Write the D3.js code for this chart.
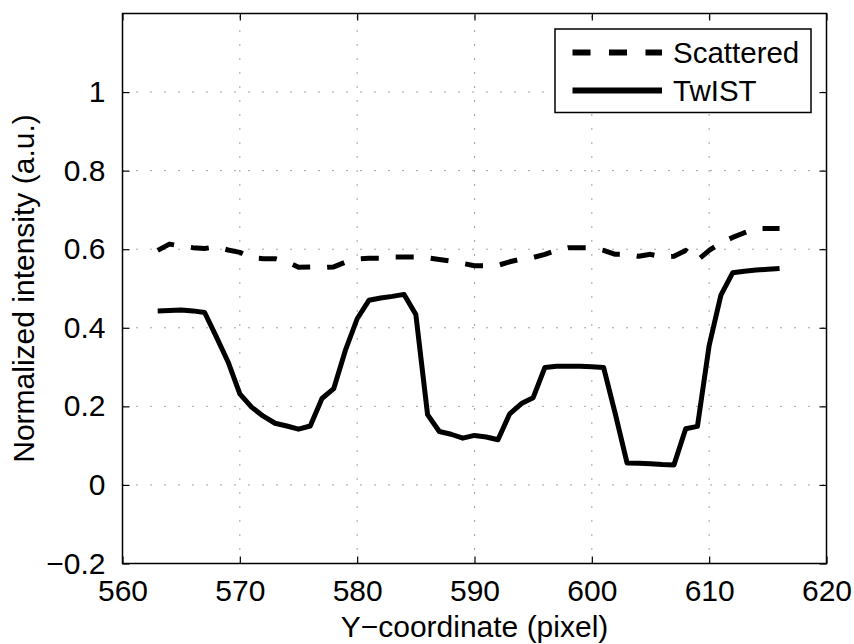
<!DOCTYPE html>
<html>
<head>
<meta charset="utf-8">
<script src="https://cdn.jsdelivr.net/npm/d3@7"></script>
<style>
  body { margin: 0; background: #fff; }
  text { font-family: "Liberation Sans", Arial, sans-serif; fill: #000; }
</style>
</head>
<body>
<div id="chart"></div>
<script>
// ─── data ────────────────────────────────────────────────────────
const yCoord = [563, 564, 565, 566, 567, 568, 569, 570, 571, 572, 573, 574, 575, 576,
                577, 578, 579, 580, 581, 582, 583, 584, 585, 586, 587, 588, 589, 590,
                591, 592, 593, 594, 595, 596, 597, 598, 599, 600, 601, 602, 603, 604,
                605, 606, 607, 608, 609, 610, 611, 612, 613, 614, 615, 616];

const scattered = [0.597, 0.613, 0.608, 0.604, 0.602, 0.606, 0.598, 0.592, 0.578, 0.576,
                   0.576, 0.568, 0.554, 0.555, 0.553, 0.555, 0.567, 0.575, 0.577, 0.577,
                   0.580, 0.580, 0.580, 0.578, 0.574, 0.570, 0.564, 0.558, 0.558, 0.559,
                   0.568, 0.575, 0.579, 0.587, 0.597, 0.604, 0.604, 0.603, 0.597, 0.587,
                   0.587, 0.582, 0.587, 0.580, 0.582, 0.597, 0.572, 0.597, 0.616, 0.630,
                   0.642, 0.653, 0.653, 0.653];

const twist = [0.443, 0.444, 0.445, 0.443, 0.439, 0.377, 0.313, 0.232, 0.198, 0.175,
               0.157, 0.150, 0.142, 0.150, 0.220, 0.245, 0.343, 0.423, 0.470, 0.476,
               0.480, 0.485, 0.434, 0.179, 0.136, 0.129, 0.119, 0.126, 0.122, 0.115,
               0.181, 0.207, 0.222, 0.299, 0.302, 0.302, 0.302, 0.301, 0.299, 0.181,
               0.056, 0.055, 0.054, 0.052, 0.051, 0.143, 0.149, 0.355, 0.483, 0.540,
               0.544, 0.547, 0.549, 0.551];

const xTicks = [560, 570, 580, 590, 600, 610, 620];
const yTicks = [-0.2, 0, 0.2, 0.4, 0.6, 0.8, 1];

const seriesNames = ["Scattered", "TwIST"];

// ─── layout ──────────────────────────────────────────────────────
const width = 854, height = 644;
const plotL = 122.5, plotR = 826.5, plotT = 13.5, plotB = 563.5;
const fontSize = 30;
const tickLen = 7;

const x = d3.scaleLinear().domain([560, 620]).range([plotL, plotR]);
const y = d3.scaleLinear().domain([-0.2, 1.2]).range([plotB, plotT]);

const svg = d3.select("#chart")
    .append("svg")
    .attr("width", width)
    .attr("height", height)
    .style("display", "block");

svg.append("rect").attr("width", width).attr("height", height).attr("fill", "#fff");

// ─── dotted grid ─────────────────────────────────────────────────
const grid = svg.append("g")
    .attr("stroke", "#444")
    .attr("stroke-width", 1)
    .attr("stroke-dasharray", "1,13");

grid.selectAll("line.gx")
    .data(xTicks.slice(1, -1))
    .join("line")
    .attr("class", "gx")
    .attr("x1", d => x(d)).attr("x2", d => x(d))
    .attr("y1", plotB).attr("y2", plotT);

grid.selectAll("line.gy")
    .data(yTicks.slice(1))
    .join("line")
    .attr("class", "gy")
    .attr("x1", plotL).attr("x2", plotR)
    .attr("y1", d => y(d)).attr("y2", d => y(d));

// ─── axes (ticks inside, on all four sides) ──────────────────────
const fmtY = d => d3.format("")(d).replace("-", "\u2212");

const xBottom = svg.append("g")
    .attr("transform", `translate(0,${plotB})`)
    .call(d3.axisBottom(x).tickValues(xTicks).tickSize(-tickLen).tickPadding(tickLen + 9).tickFormat(d3.format("d")));
const xTop = svg.append("g")
    .attr("transform", `translate(0,${plotT})`)
    .call(d3.axisTop(x).tickValues(xTicks).tickSize(-tickLen).tickFormat(""));
const yLeft = svg.append("g")
    .attr("transform", `translate(${plotL},0)`)
    .call(d3.axisLeft(y).tickValues(yTicks).tickSize(-tickLen).tickPadding(tickLen + 10).tickFormat(fmtY));
const yRight = svg.append("g")
    .attr("transform", `translate(${plotR},0)`)
    .call(d3.axisRight(y).tickValues(yTicks).tickSize(-tickLen).tickFormat(""));

[xBottom, xTop, yLeft, yRight].forEach(g => {
    g.select(".domain").remove();
    g.selectAll(".tick line").attr("stroke", "#000").attr("stroke-width", 1.2);
    g.selectAll("text")
        .style("font-family", "'Liberation Sans', Arial, sans-serif")
        .style("font-size", fontSize + "px")
        .attr("fill", "#000");
});
xBottom.selectAll("text").attr("dy", "0.72em");

// box
svg.append("rect")
    .attr("x", plotL).attr("y", plotT)
    .attr("width", plotR - plotL).attr("height", plotB - plotT)
    .attr("fill", "none")
    .attr("stroke", "#000")
    .attr("stroke-width", 1.5);

// ─── data lines ──────────────────────────────────────────────────
const line = d3.line()
    .x((d, i) => x(yCoord[i]))
    .y(d => y(d));

svg.append("path")
    .datum(scattered)
    .attr("d", line)
    .attr("fill", "none")
    .attr("stroke", "#000")
    .attr("stroke-width", 5)
    .attr("stroke-dasharray", "18,17")
    .attr("stroke-linejoin", "round");

svg.append("path")
    .datum(twist)
    .attr("d", line)
    .attr("fill", "none")
    .attr("stroke", "#000")
    .attr("stroke-width", 5)
    .attr("stroke-linejoin", "round");

// ─── axis titles ─────────────────────────────────────────────────
svg.append("text")
    .attr("x", (plotL + plotR) / 2)
    .attr("y", 637)
    .attr("text-anchor", "middle")
    .style("font-size", fontSize + "px")
    .text("Y\u2212coordinate (pixel)");

svg.append("text")
    .attr("transform", `translate(33.5,${(plotT + plotB) / 2}) rotate(-90)`)
    .attr("text-anchor", "middle")
    .style("font-size", fontSize + "px")
    .text("Normalized intensity (a.u.)");

// ─── legend ──────────────────────────────────────────────────────
const legend = svg.append("g").attr("transform", "translate(555,29)");

legend.append("rect")
    .attr("width", 256).attr("height", 83.5)
    .attr("fill", "#fff")
    .attr("stroke", "#000")
    .attr("stroke-width", 1.5);

seriesNames.forEach((name, i) => {
    const ly = 23.5 + i * 38;
    legend.append("line")
        .attr("x1", 17.5).attr("x2", 107)
        .attr("y1", ly).attr("y2", ly)
        .attr("stroke", "#000")
        .attr("stroke-width", 6)
        .attr("stroke-dasharray", i === 0 ? "18,18.5" : null);
    legend.append("text")
        .attr("x", 118)
        .attr("y", ly + 10.5)
        .style("font-size", "29.5px")
        .text(name);
});
</script>
</body>
</html>
